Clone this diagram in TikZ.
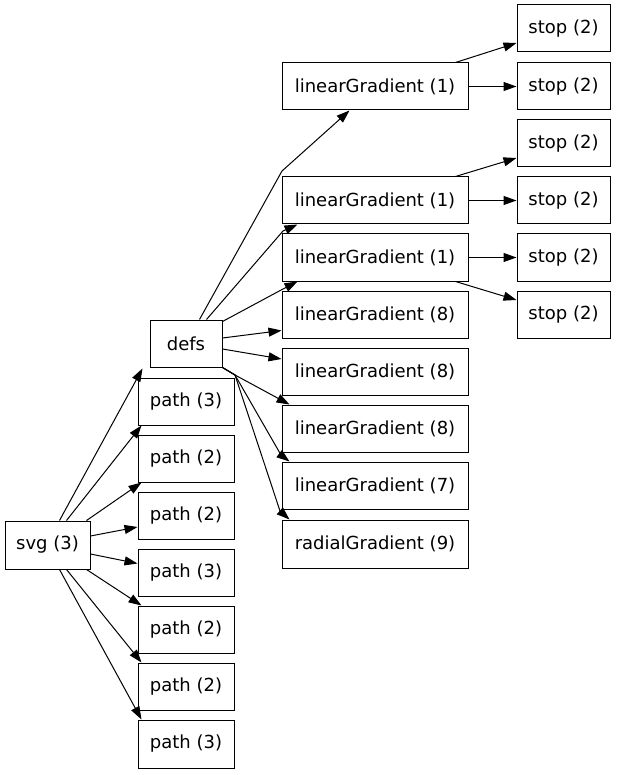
\documentclass[tikz,border=0pt]{standalone}
\usepackage{fontspec}
\setmainfont{DejaVu Sans}
\usetikzlibrary{arrows.meta,calc}
\begin{document}
\begin{tikzpicture}[x=1pt,y=-1pt,
  box/.style={draw, line width=1pt, minimum height=47pt, inner sep=0pt,
    font=\fontsize{18}{21}\selectfont},
  edge/.style={line width=1pt, -{Triangle[length=13pt,width=9pt]}}]
\useasboundingbox[fill=white] (0,0) rectangle (616,775);

% nodes
\node[box, minimum width=85pt, minimum height=48pt] (svg) at (47.5,545) {svg (3)};
\node[box, minimum width=72pt] (defs) at (186,343.5) {defs};
\node[box, minimum width=96pt] (p1) at (186,401.5) {path (3)};
\node[box, minimum width=96pt] (p2) at (186,458.5) {path (2)};
\node[box, minimum width=96pt] (p3) at (186,515.5) {path (2)};
\node[box, minimum width=96pt] (p4) at (186,572.5) {path (3)};
\node[box, minimum width=96pt] (p5) at (186,629.5) {path (2)};
\node[box, minimum width=96pt] (p6) at (186,686.5) {path (2)};
\node[box, minimum width=96pt, minimum height=48pt] (p7) at (186,744) {path (3)};

\node[box, minimum width=186pt] (lg1) at (375,86.5) {linearGradient (1)};
\node[box, minimum width=186pt] (lg2) at (375,200.5) {linearGradient (1)};
\node[box, minimum width=186pt] (lg3) at (375,257.5) {linearGradient (1)};
\node[box, minimum width=186pt] (lg4) at (375,314.5) {linearGradient (8)};
\node[box, minimum width=186pt] (lg5) at (375,371.5) {linearGradient (8)};
\node[box, minimum width=186pt] (lg6) at (375,428.5) {linearGradient (8)};
\node[box, minimum width=186pt] (lg7) at (375,485.5) {linearGradient (7)};
\node[box, minimum width=186pt, minimum height=48pt] (rg) at (375,544) {radialGradient (9)};

\node[box, minimum width=93pt] (s1) at (563.5,28.5) {stop (2)};
\node[box, minimum width=93pt] (s2) at (563.5,86.5) {stop (2)};
\node[box, minimum width=93pt] (s3) at (563.5,143.5) {stop (2)};
\node[box, minimum width=93pt] (s4) at (563.5,200.5) {stop (2)};
\node[box, minimum width=93pt] (s5) at (563.5,257.5) {stop (2)};
\node[box, minimum width=93pt] (s6) at (563.5,314.5) {stop (2)};

% bend points
\coordinate (ba) at (282,171);
\coordinate (bb) at (283,231);
\coordinate (bc) at (283,289);
\coordinate (bf) at (235,375);
\coordinate (bg) at (281,455);
\coordinate (bh) at (280,511);

% svg edges
\draw[edge] ($(svg.north west)+(55,0)$) -- ($(defs.south west)+(-7,1)$);
\draw[edge] ($(svg.north west)+(62,0)$) -- ($(p1.south west)+(4,0)$);
\draw[edge] ($(svg.north west)+(82,0)$) -- ($(p2.south west)+(4,0)$);
\draw[edge] ($(svg.east)+(0,-9)$) -- ($(p3.west)+(0,11.5)$);
\draw[edge] ($(svg.east)+(0,9)$) -- ($(p4.west)+(0,-9)$);
\draw[edge] ($(svg.south west)+(82,0)$) -- ($(p5.north west)+(4,0)$);
\draw[edge] ($(svg.south west)+(62,0)$) -- ($(p6.north west)+(4,0)$);
\draw[edge] ($(svg.south west)+(55,0)$) -- ($(p7.north west)+(4,0)$);

% defs edges
\draw[edge] ($(defs.north west)+(50,0)$) -- (ba) -- ($(lg1.south west)+(68,0)$);
\draw[edge] ($(defs.north west)+(57,0)$) -- (bb) -- ($(lg2.south west)+(16,0)$);
\draw[edge] ($(defs.north east)+(0,2)$) -- (bc) -- ($(lg3.south west)+(16,0)$);
\draw[edge] ($(defs.east)+(0,-5.5)$) -- ($(lg4.west)+(0,16)$);
\draw[edge] ($(defs.east)+(0,5.5)$) -- ($(lg5.west)+(0,-12.5)$);
\draw[edge] (defs.south east) -- (bf) -- ($(lg6.north west)+(8,0)$);
\draw[edge] (defs.south east) -- (bf) -- (bg) -- ($(lg7.north west)+(8,0)$);
\draw[edge] (defs.south east) -- (bf) -- (bh) -- ($(rg.north west)+(8,0)$);

% linearGradient -> stop edges
\draw[edge] ($(lg1.north east)+(-13,0)$) -- ($(s1.west)+(0,14.5)$);
\draw[edge] (lg1.east) -- (s2.west);
\draw[edge] ($(lg2.north east)+(-13,0)$) -- ($(s3.west)+(0,14.5)$);
\draw[edge] (lg2.east) -- (s4.west);
\draw[edge] (lg3.east) -- (s5.west);
\draw[edge] ($(lg3.south east)+(-13,0)$) -- ($(s6.west)+(0,-14.5)$);
\end{tikzpicture}
\end{document}
